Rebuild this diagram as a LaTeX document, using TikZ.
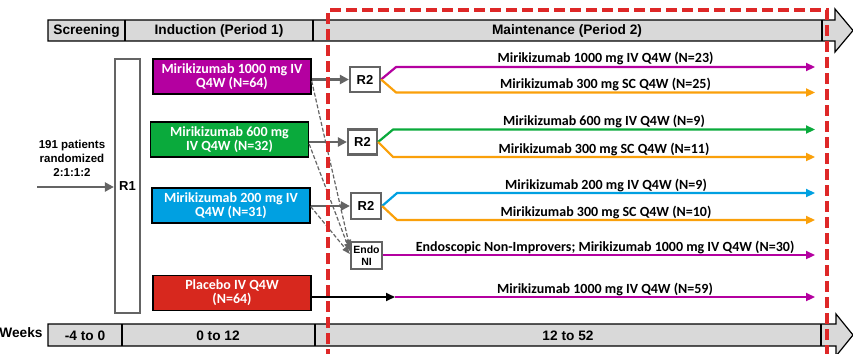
\documentclass[tikz,border=0pt]{standalone}
\usepackage{fontspec}
\setmainfont{Carlito}
\newfontfamily\arialfont{Liberation Sans}
\usetikzlibrary{arrows.meta}
\definecolor{mirPurple}{RGB}{180,0,160}
\definecolor{mirGreen}{RGB}{10,170,60}
\definecolor{mirBlue}{RGB}{0,160,225}
\definecolor{plcRed}{RGB}{215,40,30}
\definecolor{scOrange}{RGB}{250,160,10}
\definecolor{barGray}{RGB}{217,217,217}
\definecolor{boxGray}{RGB}{100,100,100}
\definecolor{dashRed}{RGB}{222,40,40}

\begin{document}
\begin{tikzpicture}[x=1pt,y=-1pt,
  hdr/.style={font=\arialfont\bfseries\fontsize{13.7}{15}\selectfont,inner sep=0pt},
  armbox/.style={draw=black,line width=1.3pt,text=white,align=center,minimum width=158pt,minimum height=35pt,inner sep=0pt,font=\bfseries\fontsize{14}{14}\selectfont},
  rbox/.style={draw=boxGray,line width=2.2pt,fill=white,inner sep=0pt,font=\arialfont\bfseries\fontsize{13}{13}\selectfont},
  feed/.style={draw=boxGray,line width=2.6pt,-{Triangle[length=9pt,width=9pt]}},
  nonimp/.style={draw=boxGray,line width=1.2pt,dash pattern=on 4pt off 2pt,-{Triangle[length=8pt,width=6pt]}},
  leg/.style={line width=2.2pt,-{Triangle[length=9pt,width=8pt]}},
  lbl/.style={font=\bfseries\fontsize{14}{14}\selectfont,anchor=base,yshift=4pt,inner sep=0pt}]
\useasboundingbox (0,0) rectangle (853,353);
\draw[fill=barGray,line width=1.2pt] (48,20) -- (835,20) -- (835,9) -- (853,30.5) -- (835,52) -- (835,41) -- (48,41) -- cycle;
\draw[line width=1.2pt] (125,20) -- (125,41);
\draw[line width=1.2pt] (313,20) -- (313,41);
\draw[line width=1.2pt] (822,20) -- (822,41);
\node[hdr] (scr) at (86.5,31) {Screening};
\node[hdr] (ind) at (219,31) {Induction (Period 1)};
\node[hdr] (mnt) at (567,31) {Maintenance (Period 2)};
\draw[fill=barGray,line width=1.2pt] (48,324) -- (836,324) -- (836,314) -- (853,335) -- (836,356) -- (836,346) -- (48,346) -- cycle;
\draw[line width=1.2pt] (122,324) -- (122,346);
\draw[line width=1.2pt] (315,324) -- (315,346);
\draw[line width=1.2pt] (821,324) -- (821,346);
\node[hdr] (wk) at (21,333) {Weeks};
\node[hdr] (w1) at (85,335.5) {-4 to 0};
\node[hdr] (w2) at (218,335.5) {0 to 12};
\node[hdr] (w3) at (568,335.5) {12 to 52};
\node[font=\arialfont\bfseries\fontsize{11.5}{14}\selectfont,align=center] (pts) at (72,158) {191 patients\\randomized\\2:1:1:2};
\node[rbox,minimum width=25pt,minimum height=254pt] (R1) at (127.5,186) {R1};
\coordinate (in) at (37,187);
\draw[feed] (in) -- (R1.west |- in);
\node[armbox,fill=mirPurple] (A) at (232,76.5) {Mirikizumab 1000 mg IV\\Q4W (N=64)};
\node[armbox,fill=mirGreen] (B) at (229.5,139.5) {Mirikizumab 600 mg\\IV Q4W (N=32)};
\node[armbox,fill=mirBlue] (C) at (231,205.5) {Mirikizumab 200 mg IV\\Q4W (N=31)};
\node[armbox,fill=plcRed] (D) at (232,293) {Placebo IV Q4W\\(N=64)};
\node[rbox,minimum width=30pt,minimum height=25pt] (R2a) at (365,79.5) {R2};
\node[rbox,minimum width=29pt,minimum height=25pt] (R2b) at (362.5,142) {R2};
\node[rbox,minimum width=30pt,minimum height=26pt] (R2c) at (366,206) {R2};
\node[rbox,minimum width=31pt,minimum height=27pt,align=center,font=\arialfont\bfseries\fontsize{10.5}{12}\selectfont] (endo) at (366.5,255.5) {Endo\\NI};
\draw[feed] (A.east |- R2a) -- (R2a);
\draw[feed] (B.east |- R2b) -- (R2b);
\draw[feed] (C.east |- R2c) -- (R2c);
\draw[nonimp] ([yshift=-4.5pt]A.east) -- (endo.155);
\draw[nonimp] ([yshift=-4.5pt]B.east) -- (endo.165);
\draw[nonimp] ([yshift=-1pt]C.east) -- (endo.175);
\coordinate (t1) at (815,67);
\coordinate (t2) at (815,92.5);
\coordinate (t3) at (815,129.5);
\coordinate (t4) at (815,157);
\coordinate (t5) at (815,193);
\coordinate (t6) at (815,220);
\coordinate (t7) at (815,255);
\coordinate (t8) at (815,297);
\coordinate (p) at (395,297);
\draw[leg,mirPurple] (R2a.east) -- ([xshift=15pt]R2a.east |- t1) -- node[lbl,text=black]{Mirikizumab 1000 mg IV Q4W (N=23)} (t1);
\draw[leg,scOrange] (R2a.east) -- ([xshift=15pt]R2a.east |- t2) -- node[lbl,text=black]{Mirikizumab 300 mg SC Q4W (N=25)} (t2);
\draw[leg,mirGreen] (R2b.east) -- ([xshift=15pt]R2b.east |- t3) -- node[lbl,text=black]{Mirikizumab 600 mg IV Q4W (N=9)} (t3);
\draw[leg,scOrange] (R2b.east) -- ([xshift=15pt]R2b.east |- t4) -- node[lbl,text=black]{Mirikizumab 300 mg SC Q4W (N=11)} (t4);
\draw[leg,mirBlue] (R2c.east) -- ([xshift=15pt]R2c.east |- t5) -- node[lbl,text=black]{Mirikizumab 200 mg IV Q4W (N=9)} (t5);
\draw[leg,scOrange] (R2c.east) -- ([xshift=15pt]R2c.east |- t6) -- node[lbl,text=black]{Mirikizumab 300 mg SC Q4W (N=10)} (t6);
\draw[leg,mirPurple] (endo.east |- t7) -- node[lbl,text=black,xshift=6pt]{Endoscopic Non-Improvers; Mirikizumab 1000 mg IV Q4W (N=30)} (t7);
\draw[leg,black,line width=1.8pt] (D.east |- p) -- (p);
\draw[leg,mirPurple] (p) -- node[lbl,text=black]{Mirikizumab 1000 mg IV Q4W (N=59)} (t8);
\draw[dashRed,line width=3.5pt,dash pattern=on 11pt off 5pt] (328,360) -- (328,10) -- (827,10) -- (827,360);
\end{tikzpicture}
\end{document}
